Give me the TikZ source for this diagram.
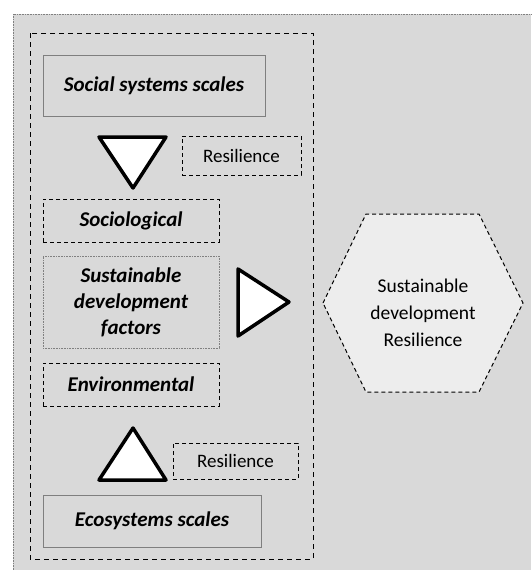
\documentclass[tikz,border=0pt]{standalone}
\usepackage{fontspec}
\setmainfont{Carlito}
\definecolor{bggray}{HTML}{D9D9D9}
\definecolor{hexfill}{HTML}{EDEDED}
\definecolor{boxline}{HTML}{7F7F7F}
\tikzset{
  solidbox/.style={draw=boxline, line width=1pt, fill=bggray, inner sep=0pt,
    font=\fontsize{21}{25}\selectfont\bfseries\itshape},
  dashbox/.style={draw=black, line width=1pt, dash pattern=on 4pt off 3pt, fill=bggray, inner sep=0pt,
    font=\fontsize{21}{25}\selectfont\bfseries\itshape},
  resbox/.style={draw=black, line width=1pt, dash pattern=on 4pt off 3pt, fill=bggray, inner sep=0pt,
    font=\fontsize{19}{22}\selectfont},
  dotbox/.style={draw=gray, line width=0.6pt, densely dotted, fill=bggray, inner sep=0pt,
    align=center, font=\fontsize{21}{26}\selectfont\bfseries\itshape},
  tri/.style={draw=black, fill=white, line width=3.5pt, line join=round},
  hextext/.style={align=center, font=\fontsize{19.5}{27}\selectfont}
}
\begin{document}
\begin{tikzpicture}[x=1pt,y=-1pt]
\useasboundingbox (0,0) rectangle (531,570);
\fill[bggray] (13,14) rectangle (531,570);
\draw[gray, line width=0.6pt, densely dotted] (13,570) -- (13,14) -- (531,14);
% inner dashed frame
\draw[black, line width=1pt, dash pattern=on 5pt off 4pt] (30,33) rectangle (313,559);
% boxes
\node[solidbox, minimum width=222pt, minimum height=61pt] (social) at (154,85.5) {Social systems scales};
\node[resbox, minimum width=119pt, minimum height=39pt] (res1) at (241.5,155.5) {Resilience};
\node[dashbox, minimum width=176pt, minimum height=43pt] (socio) at (131,220.5) {Sociological};
\node[dotbox, minimum width=176pt, minimum height=92pt] (sdf) at (131,302) {Sustainable\\development\\factors};
\node[dashbox, minimum width=176pt, minimum height=43pt] (env) at (131,384.5) {Environmental};
\node[resbox, minimum width=125pt, minimum height=36pt] (res2) at (235.5,461) {Resilience};
\node[solidbox, minimum width=218pt, minimum height=52pt] (eco) at (152,521) {Ecosystems scales};
% triangles
\draw[tri] (99,137) -- (166,137) -- (133,188) -- cycle;
\draw[tri] (238,269) -- (289,302) -- (238,336) -- cycle;
\draw[tri] (99,480) -- (166,480) -- (133,428) -- cycle;
% hexagon
\draw[fill=hexfill, draw=black, line width=1pt, dash pattern=on 4pt off 3pt]
  (323,303) -- (366,214) -- (479,214) -- (523,303) -- (479,392) -- (366,392) -- cycle;
\node[hextext] (hex) at (423,313) {Sustainable\\development\\Resilience};
\end{tikzpicture}
\end{document}
